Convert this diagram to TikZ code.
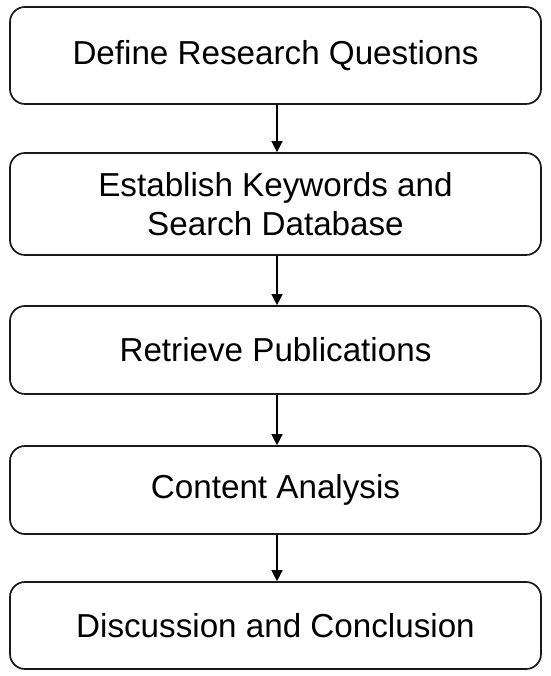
\documentclass[tikz,border=0pt]{standalone}
\usepackage{fontspec}
\setmainfont{Liberation Sans}
\usetikzlibrary{arrows.meta}
\begin{document}
\begin{tikzpicture}[x=1pt,y=1pt,
  stepbox/.style={draw=black!90, line width=1.7pt, rounded corners=15pt, minimum width=531pt, inner sep=0pt, align=center, font=\fontsize{33.2}{38.5}\selectfont},
  conn/.style={line width=1.5pt, -{Triangle[length=11pt,width=11pt]}}]
\useasboundingbox (0,0) rectangle (550,676);
\node[stepbox, minimum height=97pt] (a) at (275.5,620.5) {Define Research Questions};
\node[stepbox, minimum height=102pt] (b) at (275.5,472) {Establish Keywords and\\Search Database};
\node[stepbox, minimum height=88pt] (c) at (275.5,326) {Retrieve Publications};
\node[stepbox, minimum height=88pt] (d) at (275.5,186) {Content Analysis};
\node[stepbox, minimum height=87pt] (e) at (275.5,50.5) {Discussion and Conclusion};
\draw[conn] (a.south -| 277,0) -- (b.north -| 277,0);
\draw[conn] (b.south -| 277,0) -- (c.north -| 277,0);
\draw[conn] (c.south -| 277,0) -- (d.north -| 277,0);
\draw[conn] (d.south -| 277,0) -- (e.north -| 277,0);
\end{tikzpicture}
\end{document}
